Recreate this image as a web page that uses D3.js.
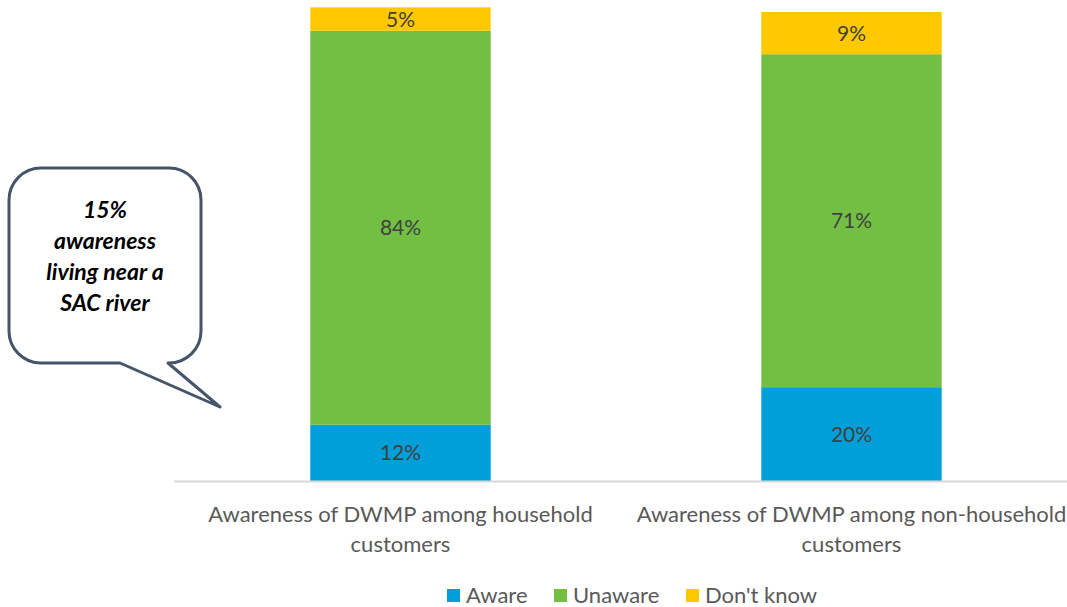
<!DOCTYPE html>
<html>
<head>
<meta charset="utf-8">
<script src="https://cdn.jsdelivr.net/npm/d3@7"></script>
<style>
  html, body { margin: 0; padding: 0; background: #fff; }
  svg { display: block; }
  text { font-family: Lato, "Open Sans", sans-serif; }
</style>
</head>
<body>
<svg id="chart" width="1067" height="607"></svg>
<script>
// Survey results: awareness of the DWMP
const categories = [
  ["Awareness of DWMP among household", "customers"],
  ["Awareness of DWMP among non-household", "customers"]
];
const seriesNames = ["Aware", "Unaware", "Don't know"];
const aware    = [12, 20];
const unaware  = [84, 71];
const dontKnow = [5, 9];
const seriesColors = ["#009fda", "#72bf44", "#ffc800"];
const calloutLines = ["15%", "awareness", "living near a", "SAC river"];

const svg = d3.select("#chart");
const W = 1067;

const rows = categories.map((c, i) => ({
  key: i, label: c,
  "Aware": aware[i], "Unaware": unaware[i], "Don't know": dontKnow[i]
}));

const x = d3.scaleBand()
  .domain(rows.map(d => d.key))
  .range([175, 1077])
  .paddingInner(0.6)
  .paddingOuter(0.3);

const y = d3.scaleLinear().domain([0, 100]).range([481, 12]);

const color = d3.scaleOrdinal().domain(seriesNames).range(seriesColors);

const stacked = d3.stack().keys(seriesNames)(rows);

const layers = svg.append("g").selectAll("g")
  .data(stacked)
  .join("g")
  .attr("fill", s => color(s.key));

layers.selectAll("rect")
  .data(s => s.map(p => ({ p, key: s.key })))
  .join("rect")
  .attr("x", d => x(d.p.data.key))
  .attr("width", x.bandwidth())
  .attr("y", d => y(d.p[1]))
  .attr("height", d => y(d.p[0]) - y(d.p[1]));

layers.selectAll("text")
  .data(s => s.map(p => ({ p, key: s.key })))
  .join("text")
  .attr("x", d => x(d.p.data.key) + x.bandwidth() / 2)
  .attr("y", d => (y(d.p[0]) + y(d.p[1])) / 2)
  .attr("dy", "0.36em")
  .attr("text-anchor", "middle")
  .attr("fill", "#404040")
  .attr("font-size", 21)
  .text(d => (d.p[1] - d.p[0]) + "%");

// Category axis
const xAxis = svg.append("g")
  .attr("transform", `translate(0,${y(0)})`)
  .call(d3.axisBottom(x).tickSize(0).tickFormat(""));
xAxis.select(".domain").remove();
xAxis.append("line")
  .attr("x1", 174).attr("x2", W)
  .attr("y1", 0.5).attr("y2", 0.5)
  .attr("stroke", "#d9d9d9").attr("stroke-width", 2);

xAxis.selectAll(".tick").each(function(k) {
  const t = d3.select(this).append("text")
    .attr("text-anchor", "middle")
    .attr("fill", "#595959")
    .attr("font-size", 22);
  rows[k].label.forEach((line, j) => {
    t.append("tspan").attr("x", 0).attr("y", 41 + j * 30).text(line);
  });
});

// Legend
const legendItems = [
  { name: "Aware", x: 447 },
  { name: "Unaware", x: 554 },
  { name: "Don't know", x: 686 }
];
const legend = svg.append("g");
legendItems.forEach(it => {
  legend.append("rect")
    .attr("x", it.x).attr("y", 589)
    .attr("width", 13).attr("height", 13)
    .attr("fill", color(it.name));
  legend.append("text")
    .attr("x", it.x + 19).attr("y", 603)
    .attr("fill", "#595959")
    .attr("font-size", 22)
    .text(it.name);
});

// Speech-bubble callout
const L = 9, R = 201, T = 168, B = 363, r = 32;
const tailA = 120, tailB = 168, tipX = 220, tipY = 407;
const path = d3.path();
path.moveTo(L + r, T);
path.lineTo(R - r, T);
path.arcTo(R, T, R, T + r, r);
path.lineTo(R, B - r);
path.arcTo(R, B, R - r, B, r);
path.lineTo(tailB, B);
path.lineTo(tipX, tipY);
path.lineTo(tailA, B);
path.lineTo(L + r, B);
path.arcTo(L, B, L, B - r, r);
path.lineTo(L, T + r);
path.arcTo(L, T, L + r, T, r);
path.closePath();
svg.append("path")
  .attr("d", path.toString())
  .attr("fill", "#fff")
  .attr("stroke", "#44546a")
  .attr("stroke-width", 3)
  .attr("stroke-linejoin", "round");

const callout = svg.append("text")
  .attr("text-anchor", "middle")
  .attr("font-size", 23)
  .attr("font-weight", "bold")
  .attr("font-style", "italic")
  .attr("fill", "#000");
calloutLines.forEach((line, i) => {
  callout.append("tspan")
    .attr("x", 105)
    .attr("y", 218 + i * 31)
    .text(line);
});
</script>
</body>
</html>
